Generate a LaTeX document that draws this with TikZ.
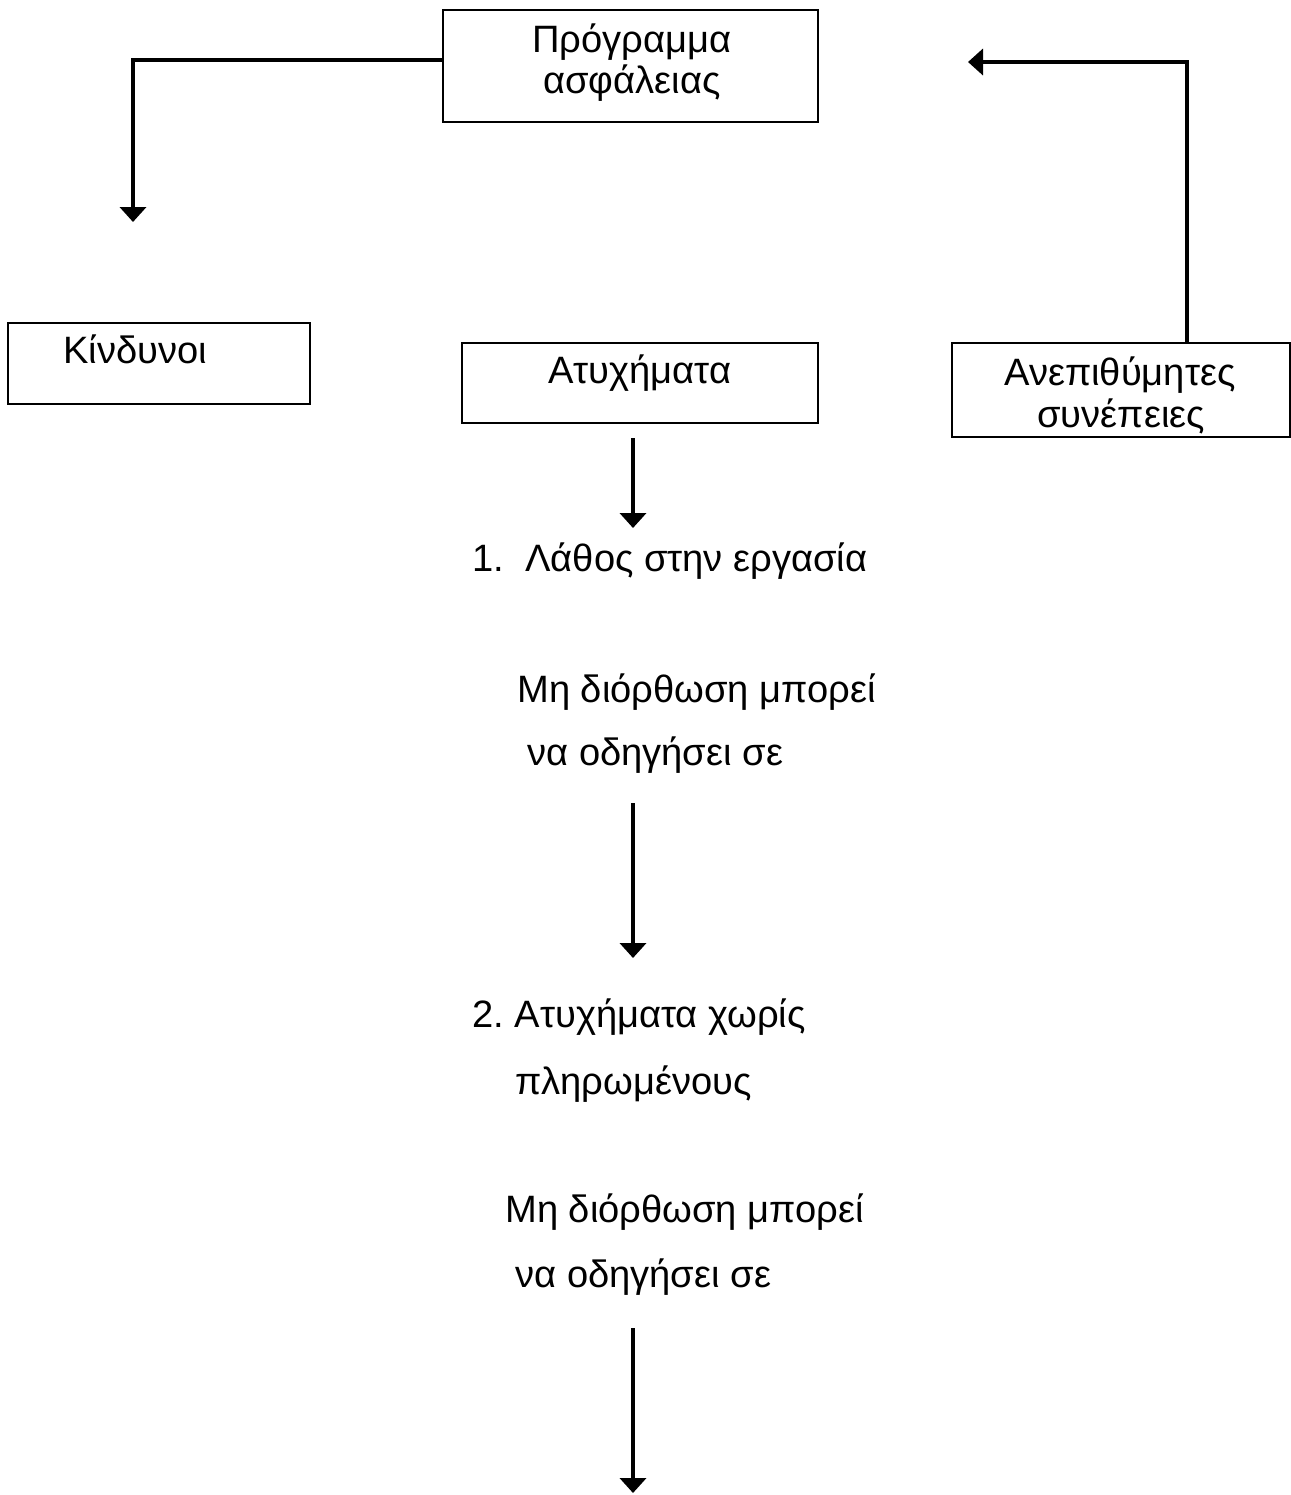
\documentclass[tikz,border=0pt]{standalone}
\usepackage{fontspec}
\setmainfont{Liberation Sans}
\usetikzlibrary{arrows.meta}
\frenchspacing
\begin{document}
\begin{tikzpicture}[x=0.02cm, y=-0.02cm,
	box/.style = {draw, line width=1.1pt, inner sep=0pt},
	txt/.style = {anchor=base west, inner sep=0pt, font=\fontsize{21.7}{26}\selectfont},
	conn/.style = {line width=2.3pt, -{Triangle[width=0.52cm, length=0.3cm]}}]

		\useasboundingbox (0,0) rectangle (1291,1495);

		% boxes
		\node[box, minimum width=7.5cm, minimum height=2.24cm] (prog) at (630.5,66) {};
		\node[box, minimum width=6.04cm, minimum height=1.62cm] (kin) at (159,363.5) {};
		\node[box, minimum width=7.12cm, minimum height=1.6cm] (atyx) at (640,383) {};
		\node[box, minimum width=6.76cm, minimum height=1.88cm] (anep) at (1121,390) {};

		\node[txt] (progA) at (532,52) {Πρόγραμμα};
		\node[txt] (progB) at (543,93) {ασφάλειας};
		\node[txt] (kinT) at (63,363) {Κίνδυνοι};
		\node[txt] (atyxT) at (548,383) {Ατυχήματα};
		\node[txt] (anepA) at (1004,385) {Ανεπιθύμητες};
		\node[txt] (anepB) at (1037,427) {συνέπειες};

		% chain below
		\node[txt] (lathos) at (472,571) {1.\ \ Λάθος στην εργασία};
		\node[txt] (mi1) at (517,702) {Μη διόρθωση μπορεί};
		\node[txt] (na1) at (527,765) {να οδηγήσει σε};
		\node[txt] (atyx2) at (472,1027) {2. Ατυχήματα χωρίς};
		\node[txt] (plir) at (515,1094) {πληρωμένους};
		\node[txt] (mi2) at (505,1222) {Μη διόρθωση μπορεί};
		\node[txt] (na2) at (515,1287) {να οδηγήσει σε};

		\coordinate (kinIn) at (133,222);
		\coordinate (progIn) at (968,62);
		\coordinate (a1s) at (633,438);
		\coordinate (a1e) at (633,528);
		\coordinate (a2s) at (633,803);
		\coordinate (a2e) at (633,958);
		\coordinate (a3s) at (633,1328);
		\coordinate (a3e) at (633,1493);

		\draw[conn] (prog.west |- 0,60) -| (kinIn);
		\draw[conn] (anep.north -| 1187,0) |- (progIn);
		\draw[conn] (a1s) -- (a1e);
		\draw[conn] (a2s) -- (a2e);
		\draw[conn] (a3s) -- (a3e);
	\end{tikzpicture}
\end{document}
